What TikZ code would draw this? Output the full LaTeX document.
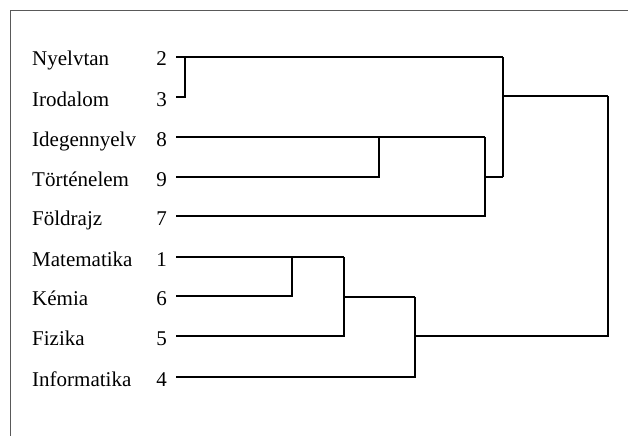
\documentclass[tikz,border=0pt]{standalone}
\usepackage{fontspec}
\setmainfont{Liberation Serif}
\begin{document}
\begin{tikzpicture}[x=1pt,y=-1pt,
  lab/.style={anchor=base west,inner sep=0pt,font=\fontsize{21}{25}\selectfont},
  num/.style={anchor=base east,inner sep=0pt,font=\fontsize{21}{25}\selectfont},
  link/.style={draw=black,line width=1.4pt},
  frame/.style={draw=black!65,line width=1pt}]
\useasboundingbox (0,0) rectangle (628,436);
\draw[frame] (628,10.5) -- (10,10.5) -- (10,436);
% labels
\foreach \nm/\txt/\n/\y in {2/Nyelvtan/2/57, 3/Irodalom/3/97, 8/Idegennyelv/8/137, 9/Történelem/9/177, 7/Földrajz/7/216, 1/Matematika/1/257, 6/Kémia/6/296, 5/Fizika/5/336, 4/Informatika/4/377}{
  \node[lab] (t\nm) at (32,\y+9) {\txt};
  \node[num] (n\nm) at (167,\y+9) {\n};
  \coordinate (l\nm) at (176,\y);
}
% joins
\coordinate (a23) at (185,57);
\coordinate (a89) at (379,137);
\coordinate (a897) at (485,177);
\coordinate (a2397) at (503,96);
\coordinate (a16) at (292,257);
\coordinate (a165) at (344,297);
\coordinate (a1654) at (415,336);
\coordinate (root) at (608,96);
% cluster (2,3)
\draw[link] (l2) -- (l2 -| a2397);
\draw[link] (l3) -| (a23);
% cluster (8,9)
\draw[link] (l8) -- (485,137);
\draw[link] (l9) -| (a89);
% with 7
\draw[link] (l7) -| (485,137);
\draw[link] (a897) -- (a897 -| a2397);
% (2,3) with (8,9,7)
\draw[link] (a2397 |- l2) -- (a2397 |- a897);
\draw[link] (a2397) -- (root);
% cluster (1,6)
\draw[link] (l1) -- (l1 -| a165);
\draw[link] (l6) -| (a16);
% with 5
\draw[link] (l5) -| (l1 -| a165);
\draw[link] (a165) -- (a165 -| a1654);
% with 4
\draw[link] (l4) -| (a165 -| a1654);
\draw[link] (a1654) -| (root);
\end{tikzpicture}
\end{document}
